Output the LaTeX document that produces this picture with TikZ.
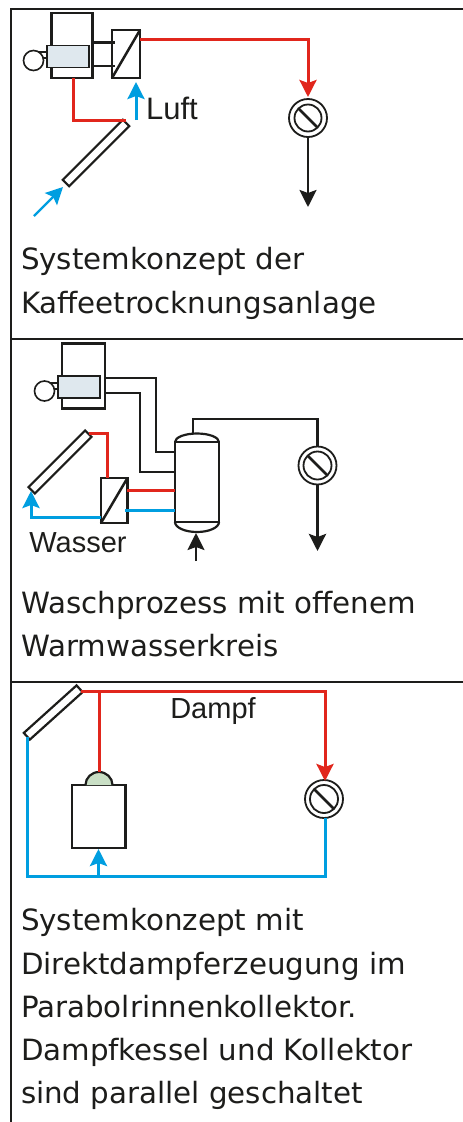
\documentclass[tikz,border=0pt]{standalone}
\usepackage{fontspec}
\setmainfont{DejaVu Sans}
\newfontfamily\labelfont{Liberation Sans}
\usepackage{tikz}
\usetikzlibrary{arrows.meta}
\usetikzlibrary{positioning}
\definecolor{rd}{HTML}{E1261C}
\definecolor{bl}{HTML}{009EE0}
\definecolor{bk}{HTML}{1D1D1B}
\definecolor{burnerfill}{HTML}{DFE8EE}
\definecolor{domefill}{HTML}{C9DFC5}

\begin{document}
\begin{tikzpicture} [x=1pt,y=-1pt,line join=miter,
  every node/.style={inner sep=0pt,outer sep=0pt,text=bk},
  box/.style={draw=bk,line width=2.6pt,rectangle,fill=white},
  burner/.style={draw=bk,line width=1.8pt,rectangle,fill=burnerfill,minimum width=42pt,minimum height=22pt},
  fan/.style={draw=bk,line width=1.6pt,circle,fill=white,minimum size=20pt},
  ring/.style={draw=bk,line width=1.8pt,circle,fill=white,minimum size=#1},
  coll/.style={draw=bk,line width=2.2pt,rectangle,fill=white,rotate=#1,minimum height=9pt},
  rdl/.style={draw=rd,line width=3pt},
  bll/.style={draw=bl,line width=3pt},
  bkl/.style={draw=bk,line width=2.5pt},
  flowtip/.style={-{Stealth[length=17pt,width=17pt,inset=3pt]}},
  captext/.style={anchor=base west,font=\fontsize{29.3}{30}\selectfont},
  lab/.style={font=\labelfont\fontsize{29}{30}\selectfont}]
\useasboundingbox (0,0) rectangle (463,1122);
\fill[white] (0,0) rectangle (463,1122);

% frame
\coordinate (t0) at (11,9);
\coordinate (t1) at (463,9);
\coordinate (t2) at (11,339);
\coordinate (t3) at (463,339);
\coordinate (t4) at (11,682);
\coordinate (t5) at (463,682);
\coordinate (t6) at (11,1122);
\draw[bk,line width=2.2pt](t1)--(t0)--(t6);
\draw[bk,line width=2.2pt](t2)--(t3);
\draw[bk,line width=2.2pt](t4)--(t5);

% first system
\coordinate (a1) at (73,78);
\coordinate (a2) at (126,120);
\coordinate (a3) at (140,39);
\coordinate (a4) at (308,97);
\coordinate (a5) at (136,120);
\coordinate (a6) at (136,82);
\coordinate (a7) at (34,216);
\coordinate (a8) at (63,187);
\coordinate (a9) at (308,207);
\coordinate (a10) at (93,42.5);
\coordinate (a11) at (115,42.5);
\coordinate (a12) at (93,66);
\coordinate (a13) at (115,66);
\coordinate (a14) at (37,52);
\coordinate (a15) at (47,52);
\coordinate (a16) at (41,58);
\coordinate (a17) at (47,58);
\node (aboil) [box,minimum width=41pt,minimum height=65pt] at (72.2,45.5) {};
\draw[bkl](a14)--(a15);
\draw[bkl](a16)--(a17);
\node (aburn) [burner] at (68,56.5) {};
\node (afan) [fan] at (33.5,60.5) {};
\node (ahx) [box,minimum width=28pt,minimum height=48pt] at (126,54) {};
\node (acoll) [coll=45,minimum width=85pt] at (96,153) {};
\node (av) [ring=38pt] at (308,118) {};
\node (avi) [ring=27pt] at (308,118) {};
\node (aluft) [lab,font=\labelfont\fontsize{31}{32}\selectfont] at (172,108) {Luft};
\draw[bkl](a10)--(a11);
\draw[bkl](a12)--(a13);
\draw[bkl](ahx.south west)--(ahx.north east);
\draw[bkl](avi.135)--(avi.-45);
\draw[rdl](a1)|-(a2);
\draw[rdl,flowtip](a3)-|(a4);
\draw[bll,flowtip](a5)--(a6);
\draw[bll,line width=2.2pt,flowtip](a7)--(a8);
\draw[bkl,flowtip](av.south)--(a9);
\node (acap1) [captext] at (21,269) {Systemkonzept der};
\node (acap2) [captext] at (21,313) {Kaffeetrocknungsanlage};

% second system
\coordinate (b1) at (105,378);
\coordinate (b2) at (156,452);
\coordinate (b3) at (175,452);
\coordinate (b4) at (105,393);
\coordinate (b5) at (140,472);
\coordinate (b6) at (175,472);
\coordinate (b7) at (193,434);
\coordinate (b8) at (193,419);
\coordinate (b9) at (317.5,419);
\coordinate (b10) at (89,433);
\coordinate (b11) at (107,478);
\coordinate (b12) at (127,490);
\coordinate (b13) at (175,490);
\coordinate (b14) at (125,510.5);
\coordinate (b15) at (175,510.5);
\coordinate (b16) at (101,517);
\coordinate (b17) at (31,491);
\coordinate (b18) at (317.5,551);
\coordinate (b19) at (196,561);
\coordinate (b20) at (196,533);
\coordinate (b21) at (48,383);
\coordinate (b22) at (58,383);
\coordinate (b23) at (52,389);
\coordinate (b24) at (58,389);
\node (bboil) [box,minimum width=43pt,minimum height=65pt] at (83.5,376) {};
\draw[bkl](b21)--(b22);
\draw[bkl](b23)--(b24);
\node (bburn) [burner] at (79,387) {};
\node (bfan) [fan] at (44.5,391) {};
\draw[bk,line width=2.2pt,fill=white](175,442) arc[start angle=180,end angle=360,x radius=22,y radius=8.5];
\draw[bk,line width=2.2pt,fill=white](175,522) arc[start angle=180,end angle=0,x radius=22,y radius=10];
\node (btank) [box,line width=2.2pt,minimum width=44pt,minimum height=80pt] at (197,482) {};
\node (bhx) [box,minimum width=26.5pt,minimum height=45pt] at (114.2,500.5) {};
\node (bcoll) [coll=45,minimum width=80pt] at (60,462) {};
\node (bv) [ring=38pt] at (317.5,465.5) {};
\node (bvi) [ring=28pt] at (317.5,465.5) {};
\node (bwas) [lab] at (78,543) {Wasser};
\draw[bkl](b1)-|(b2)--(b3);
\draw[bkl](b4)-|(b5)--(b6);
\draw[bkl](b7)--(b8)-|(b9)--(bv.north);
\draw[bkl](bhx.south west)--(bhx.north east);
\draw[bkl](bvi.135)--(bvi.-45);
\draw[rdl](b10)-|(b11);
\draw[rdl](b12)--(b13);
\draw[bll](b14)--(b15);
\draw[bll,flowtip](b16)-|(b17);
\draw[bkl,line width=3pt,flowtip](bv.south)--(b18);
\draw[bkl,flowtip](b19)--(b20);
\node (bcap1) [captext] at (21,613) {Waschprozess mit offenem};
\node (bcap2) [captext] at (21,656) {Warmwasserkreis};

% third system
\coordinate (c1) at (81,691);
\coordinate (c2) at (325,781);
\coordinate (c3) at (99,691);
\coordinate (c4) at (99,772);
\coordinate (c5) at (27.5,737);
\coordinate (c6) at (325,876);
\coordinate (c7) at (325,818);
\coordinate (c8) at (98.5,876);
\coordinate (c9) at (98.5,849);
\node (cboil) [box,minimum width=53.5pt,minimum height=63pt] at (98.7,816.5) {};
\draw[bk,line width=2.2pt,fill=domefill](85.5,785) arc[start angle=180,end angle=360,x radius=13.5,y radius=13];
\node (ccoll) [coll=42,minimum width=71pt] at (53.2,712.5) {};
\node (cv) [ring=38pt] at (324,799) {};
\node (cvi) [ring=28pt] at (324,799) {};
\node (cdam) [lab] at (213,711) {Dampf};
\draw[bkl](cvi.135)--(cvi.-45);
\draw[rdl,flowtip](c1)-|(c2);
\draw[rdl](c3)--(c4);
\draw[bll](c5)|-(c6)--(c7);
\draw[bll,flowtip](c8)--(c9);
\node (ccap1) [captext] at (21,930) {Systemkonzept mit};
\node (ccap2) [captext] at (21,974) {Direktdampferzeugung im};
\node (ccap3) [captext] at (21,1017) {Parabolrinnenkollektor.};
\node (ccap4) [captext] at (21,1060) {Dampfkessel und Kollektor};
\node (ccap5) [captext] at (21,1103) {sind parallel geschaltet};
\end{tikzpicture}
\end{document}
